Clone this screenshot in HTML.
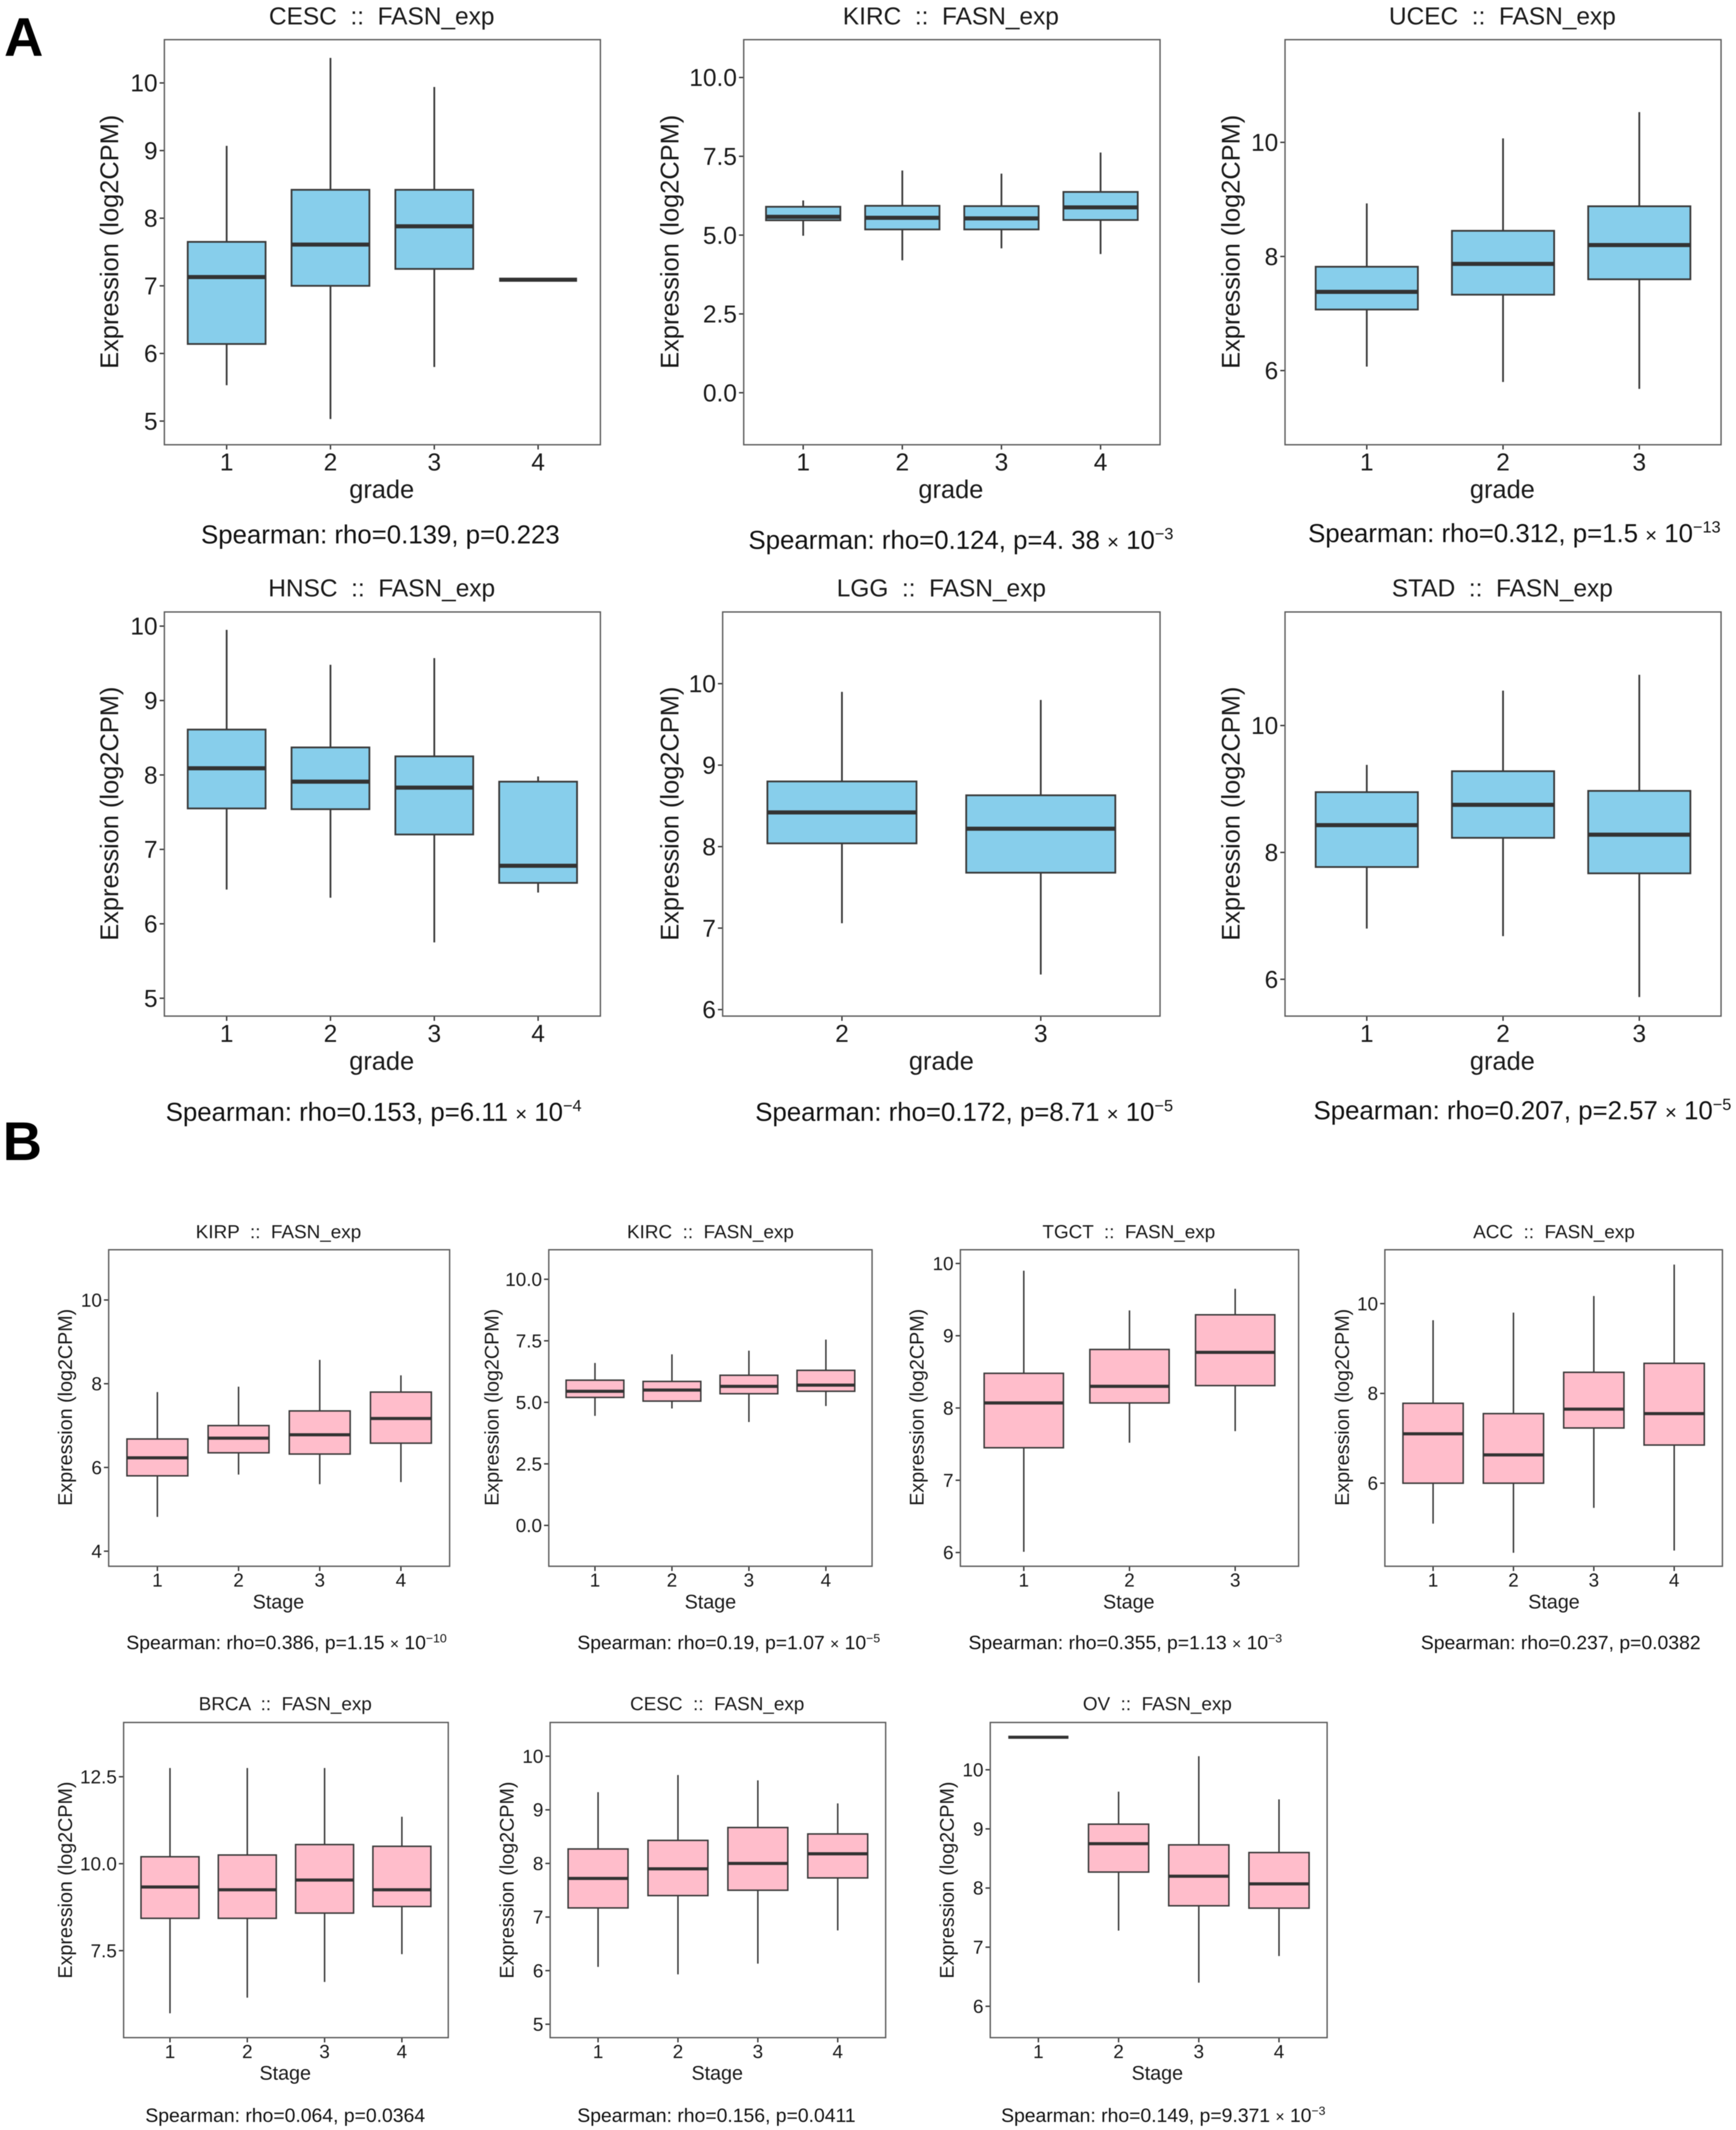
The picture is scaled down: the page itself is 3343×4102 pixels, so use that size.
<!DOCTYPE html>
<html lang="en">
<head>
<meta charset="utf-8">
<title>FASN expression by grade and stage</title>
<style>
html,body{margin:0;padding:0;background:#fff;width:3343px;height:4102px;overflow:hidden}
svg{display:block;filter:blur(0.7px)}
text{font-family:"Liberation Sans",Arial,sans-serif;fill:#1a1a1a}
.a{font-size:18px}.a-ax{font-size:18.7px}.a-note{font-size:19px;fill:#111}
.b{font-size:13.9px}.b-ax{font-size:14.5px}.b-note{font-size:14.25px;fill:#111}
.letter{font-size:40px;font-weight:bold;fill:#000}
.m{text-anchor:middle}
.xa{font-size:15px}.xb{font-size:11.5px}
</style>
</head>
<body>
<svg id="figure" xmlns="http://www.w3.org/2000/svg" width="3343" height="4102" viewBox="0 0 1278 1568" preserveAspectRatio="none">
<rect width="1278" height="1568" fill="#fff"/>
<text class="letter" x="3" y="41">A</text>
<text class="letter" x="2" y="854">B</text>

<g id="cescGrade">
<text class="a m" x="281" y="18">CESC &#160;::&#160; FASN_exp</text>
<text class="a-ax m" transform="translate(87,178) rotate(-90)">Expression (log2CPM)</text>
<text class="a-ax m" x="281" y="366.5">grade</text>
<text class="a-note" x="148" y="400">Spearman: rho=0.139, p=0.223</text>
</g>
<g id="kircGrade">
<text class="a m" x="700" y="18">KIRC &#160;::&#160; FASN_exp</text>
<text class="a-ax m" transform="translate(499.5,178) rotate(-90)">Expression (log2CPM)</text>
<text class="a-ax m" x="700" y="366.5">grade</text>
<text class="a-note" x="551" y="404">Spearman: rho=0.124, p=4. 38 <tspan class="xa">×</tspan> 10<tspan font-size="12" dy="-7">−3</tspan></text>
</g>
<g id="ucecGrade">
<text class="a m" x="1106" y="18">UCEC &#160;::&#160; FASN_exp</text>
<text class="a-ax m" transform="translate(912.5,178) rotate(-90)">Expression (log2CPM)</text>
<text class="a-ax m" x="1106" y="366.5">grade</text>
<text class="a-note" x="963" y="399">Spearman: rho=0.312, p=1.5 <tspan class="xa">×</tspan> 10<tspan font-size="12" dy="-7">−13</tspan></text>
</g>
<g id="hnscGrade">
<text class="a m" x="281" y="439">HNSC &#160;::&#160; FASN_exp</text>
<text class="a-ax m" transform="translate(87,599) rotate(-90)">Expression (log2CPM)</text>
<text class="a-ax m" x="281" y="787.5">grade</text>
<text class="a-note" x="122" y="825">Spearman: rho=0.153, p=6.11 <tspan class="xa">×</tspan> 10<tspan font-size="12" dy="-7">−4</tspan></text>
</g>
<g id="lggGrade">
<text class="a m" x="693" y="439">LGG &#160;::&#160; FASN_exp</text>
<text class="a-ax m" transform="translate(499.5,599) rotate(-90)">Expression (log2CPM)</text>
<text class="a-ax m" x="693" y="787.5">grade</text>
<text class="a-note" x="556" y="825">Spearman: rho=0.172, p=8.71 <tspan class="xa">×</tspan> 10<tspan font-size="12" dy="-7">−5</tspan></text>
</g>
<g id="stadGrade">
<text class="a m" x="1106" y="439">STAD &#160;::&#160; FASN_exp</text>
<text class="a-ax m" transform="translate(912.5,599) rotate(-90)">Expression (log2CPM)</text>
<text class="a-ax m" x="1106" y="787.5">grade</text>
<text class="a-note" x="967" y="824">Spearman: rho=0.207, p=2.57 <tspan class="xa">×</tspan> 10<tspan font-size="12" dy="-7">−5</tspan></text>
</g>

<g id="kirpStage">
<text class="b m" x="205" y="911.5">KIRP &#160;::&#160; FASN_exp</text>
<text class="b-ax m" transform="translate(53,1036) rotate(-90)">Expression (log2CPM)</text>
<text class="b-ax m" x="205" y="1184">Stage</text>
<text class="b-note" x="93" y="1214">Spearman: rho=0.386, p=1.15 <tspan class="xb">×</tspan> 10<tspan font-size="9" dy="-5">−10</tspan></text>
</g>
<g id="kircStage">
<text class="b m" x="523" y="911.5">KIRC &#160;::&#160; FASN_exp</text>
<text class="b-ax m" transform="translate(367,1036) rotate(-90)">Expression (log2CPM)</text>
<text class="b-ax m" x="523" y="1184">Stage</text>
<text class="b-note" x="425" y="1214">Spearman: rho=0.19, p=1.07 <tspan class="xb">×</tspan> 10<tspan font-size="9" dy="-5">−5</tspan></text>
</g>
<g id="tgctStage">
<text class="b m" x="831" y="911.5">TGCT &#160;::&#160; FASN_exp</text>
<text class="b-ax m" transform="translate(680,1036) rotate(-90)">Expression (log2CPM)</text>
<text class="b-ax m" x="831" y="1184">Stage</text>
<text class="b-note" x="713" y="1214">Spearman: rho=0.355, p=1.13 <tspan class="xb">×</tspan> 10<tspan font-size="9" dy="-5">−3</tspan></text>
</g>
<g id="accStage">
<text class="b m" x="1144" y="911.5">ACC &#160;::&#160; FASN_exp</text>
<text class="b-ax m" transform="translate(993,1036) rotate(-90)">Expression (log2CPM)</text>
<text class="b-ax m" x="1144" y="1184">Stage</text>
<text class="b-note" x="1046" y="1214">Spearman: rho=0.237, p=0.0382</text>
</g>
<g id="brcaStage">
<text class="b m" x="210" y="1259">BRCA &#160;::&#160; FASN_exp</text>
<text class="b-ax m" transform="translate(53,1384) rotate(-90)">Expression (log2CPM)</text>
<text class="b-ax m" x="210" y="1531">Stage</text>
<text class="b-note" x="107" y="1562">Spearman: rho=0.064, p=0.0364</text>
</g>
<g id="cescStage">
<text class="b m" x="528" y="1259">CESC &#160;::&#160; FASN_exp</text>
<text class="b-ax m" transform="translate(378,1384) rotate(-90)">Expression (log2CPM)</text>
<text class="b-ax m" x="528" y="1531">Stage</text>
<text class="b-note" x="425" y="1562">Spearman: rho=0.156, p=0.0411</text>
</g>
<g id="ovStage">
<text class="b m" x="852" y="1259">OV &#160;::&#160; FASN_exp</text>
<text class="b-ax m" transform="translate(702,1384) rotate(-90)">Expression (log2CPM)</text>
<text class="b-ax m" x="852" y="1531">Stage</text>
<text class="b-note" x="737" y="1562">Spearman: rho=0.149, p=9.371 <tspan class="xb">×</tspan> 10<tspan font-size="9" dy="-5">−3</tspan></text>
</g>
</svg>

<script>
// ---- Data ----
const cescGradeCategories = ['1','2','3','4'];
const cescGradeYTicks = ['5','6','7','8','9','10'];
const cescGradeLow = [5.53,5.03,5.80,7.09];
const cescGradeQ1 = [6.14,7.00,7.25,7.09];
const cescGradeMedian = [7.13,7.61,7.88,7.09];
const cescGradeQ3 = [7.65,8.42,8.42,7.09];
const cescGradeHigh = [9.07,10.37,9.94,7.09];

const kircGradeCategories = ['1','2','3','4'];
const kircGradeYTicks = ['0.0','2.5','5.0','7.5','10.0'];
const kircGradeLow = [4.98,4.20,4.58,4.40];
const kircGradeQ1 = [5.47,5.18,5.18,5.48];
const kircGradeMedian = [5.58,5.55,5.53,5.88];
const kircGradeQ3 = [5.90,5.93,5.92,6.37];
const kircGradeHigh = [6.10,7.05,6.95,7.62];

const ucecGradeCategories = ['1','2','3'];
const ucecGradeYTicks = ['6','8','10'];
const ucecGradeLow = [6.07,5.80,5.68];
const ucecGradeQ1 = [7.07,7.33,7.60];
const ucecGradeMedian = [7.38,7.87,8.20];
const ucecGradeQ3 = [7.82,8.45,8.88];
const ucecGradeHigh = [8.93,10.07,10.53];

const hnscGradeCategories = ['1','2','3','4'];
const hnscGradeYTicks = ['5','6','7','8','9','10'];
const hnscGradeLow = [6.46,6.35,5.75,6.42];
const hnscGradeQ1 = [7.55,7.54,7.20,6.55];
const hnscGradeMedian = [8.09,7.91,7.83,6.78];
const hnscGradeQ3 = [8.61,8.37,8.25,7.91];
const hnscGradeHigh = [9.95,9.48,9.57,7.98];

const lggGradeCategories = ['2','3'];
const lggGradeYTicks = ['6','7','8','9','10'];
const lggGradeLow = [7.06,6.43];
const lggGradeQ1 = [8.04,7.68];
const lggGradeMedian = [8.42,8.22];
const lggGradeQ3 = [8.80,8.63];
const lggGradeHigh = [9.90,9.80];

const stadGradeCategories = ['1','2','3'];
const stadGradeYTicks = ['6','8','10'];
const stadGradeLow = [6.80,6.68,5.72];
const stadGradeQ1 = [7.77,8.23,7.67];
const stadGradeMedian = [8.43,8.75,8.28];
const stadGradeQ3 = [8.95,9.28,8.97];
const stadGradeHigh = [9.38,10.55,10.80];

const kirpStageCategories = ['1','2','3','4'];
const kirpStageYTicks = ['4','6','8','10'];
const kirpStageLow = [4.82,5.83,5.60,5.65];
const kirpStageQ1 = [5.80,6.35,6.32,6.58];
const kirpStageMedian = [6.23,6.70,6.78,7.17];
const kirpStageQ3 = [6.68,7.00,7.35,7.80];
const kirpStageHigh = [7.80,7.93,8.57,8.20];

const kircStageCategories = ['1','2','3','4'];
const kircStageYTicks = ['0.0','2.5','5.0','7.5','10.0'];
const kircStageLow = [4.45,4.75,4.20,4.85];
const kircStageQ1 = [5.20,5.05,5.35,5.45];
const kircStageMedian = [5.45,5.50,5.65,5.70];
const kircStageQ3 = [5.90,5.85,6.10,6.30];
const kircStageHigh = [6.60,6.95,7.10,7.55];

const tgctStageCategories = ['1','2','3'];
const tgctStageYTicks = ['6','7','8','9','10'];
const tgctStageLow = [6.01,7.52,7.68];
const tgctStageQ1 = [7.45,8.07,8.31];
const tgctStageMedian = [8.07,8.30,8.77];
const tgctStageQ3 = [8.48,8.81,9.29];
const tgctStageHigh = [9.90,9.35,9.65];

const accStageCategories = ['1','2','3','4'];
const accStageYTicks = ['6','8','10'];
const accStageLow = [5.10,4.45,5.45,4.50];
const accStageQ1 = [6.00,6.00,7.23,6.85];
const accStageMedian = [7.10,6.63,7.65,7.55];
const accStageQ3 = [7.78,7.55,8.47,8.67];
const accStageHigh = [9.63,9.80,10.17,10.87];

const brcaStageCategories = ['1','2','3','4'];
const brcaStageYTicks = ['7.5','10.0','12.5'];
const brcaStageLow = [5.70,6.15,6.60,7.40];
const brcaStageQ1 = [8.43,8.43,8.58,8.77];
const brcaStageMedian = [9.33,9.25,9.53,9.25];
const brcaStageQ3 = [10.20,10.25,10.55,10.50];
const brcaStageHigh = [12.75,12.75,12.75,11.35];

const cescStageCategories = ['1','2','3','4'];
const cescStageYTicks = ['5','6','7','8','9','10'];
const cescStageLow = [6.07,5.93,6.13,6.75];
const cescStageQ1 = [7.17,7.40,7.50,7.73];
const cescStageMedian = [7.72,7.90,8.00,8.18];
const cescStageQ3 = [8.27,8.43,8.67,8.55];
const cescStageHigh = [9.33,9.65,9.55,9.12];

const ovStageCategories = ['1','2','3','4'];
const ovStageYTicks = ['6','7','8','9','10'];
const ovStageLow = [10.55,7.28,6.40,6.85];
const ovStageQ1 = [10.55,8.27,7.70,7.66];
const ovStageMedian = [10.55,8.75,8.20,8.07];
const ovStageQ3 = [10.55,9.08,8.73,8.60];
const ovStageHigh = [10.55,9.63,10.23,9.50];

// ---- Drawing ----
const NS = 'http://www.w3.org/2000/svg';
const SKY = '#87CEEB', PINK = '#FFBDCB', INK = '#3a3a3a', FRAME = '#5c5c5c';

function make(tag, parent, attrs) {
  const el = document.createElementNS(NS, tag);
  for (const k in attrs) el.setAttribute(k, attrs[k]);
  parent.appendChild(el);
  return el;
}

function drawPanel(id, frame, yDomain, fill, big, cats, yTicks, low, q1, median, q3, high) {
  const g = document.getElementById(id);
  const [l, t, r, b] = frame;
  const yScale = v => b - (v - yDomain[0]) / (yDomain[1] - yDomain[0]) * (b - t);
  const unit = (r - l) / (cats.length + 0.2);
  const xScale = i => l + (i + 0.6) * unit;
  const halfBox = unit * 0.375;
  const fontSize = big ? 18 : 13.9;
  const sw = big ? 1.3 : 1.1;
  const medianW = big ? 3 : 2.3;

  cats.forEach((c, i) => {
    const x = xScale(i);
    const upper = make('line', g, {x1: x, x2: x, y1: yScale(high[i]), y2: yScale(q3[i]), stroke: INK, 'stroke-width': sw});
    
    
    const lower = make('line', g, {x1: x, x2: x, y1: yScale(q1[i]), y2: yScale(low[i]), stroke: INK, 'stroke-width': sw});
    
    
    const box = make('rect', g, {x: x - halfBox, y: yScale(q3[i]), width: halfBox * 2, height: Math.max(0, yScale(q1[i]) - yScale(q3[i])), fill: fill, stroke: INK, 'stroke-width': sw});
    
    
    const med = make('line', g, {x1: x - halfBox, x2: x + halfBox, y1: yScale(median[i]), y2: yScale(median[i]), stroke: '#333', 'stroke-width': medianW});
    
    
    const tick = make('line', g, {x1: x, x2: x, y1: b, y2: b + 3.5, stroke: '#333', 'stroke-width': 1});
    
    
    const lab = make('text', g, {x: x, y: b + (big ? 19 : 15), 'text-anchor': 'middle', 'font-size': fontSize});
    
    
    lab.textContent = c;
  });

  yTicks.forEach(label => {
    const y = yScale(parseFloat(label));
    const tick = make('line', g, {x1: l - 3.5, x2: l, y1: y, y2: y, stroke: '#333', 'stroke-width': 1});
    
    
    const lab = make('text', g, {x: l - 5, y: y + fontSize * 0.35, 'text-anchor': 'end', 'font-size': fontSize});
    
    
    lab.textContent = label;
  });

  const border = make('rect', g, {x: l, y: t, width: r - l, height: b - t, fill: 'none', stroke: FRAME, 'stroke-width': 1});
  
  
}

drawPanel('cescGrade', [121,29.2,442,327.4], [4.65,10.64], SKY, true, cescGradeCategories, cescGradeYTicks, cescGradeLow, cescGradeQ1, cescGradeMedian, cescGradeQ3, cescGradeHigh);
drawPanel('kircGrade', [547.5,29.2,854,327.4], [-1.65,11.2], SKY, true, kircGradeCategories, kircGradeYTicks, kircGradeLow, kircGradeQ1, kircGradeMedian, kircGradeQ3, kircGradeHigh);
drawPanel('ucecGrade', [946,29.2,1267,327.4], [4.70,11.80], SKY, true, ucecGradeCategories, ucecGradeYTicks, ucecGradeLow, ucecGradeQ1, ucecGradeMedian, ucecGradeQ3, ucecGradeHigh);
drawPanel('hnscGrade', [121,450.5,442,748], [4.76,10.19], SKY, true, hnscGradeCategories, hnscGradeYTicks, hnscGradeLow, hnscGradeQ1, hnscGradeMedian, hnscGradeQ3, hnscGradeHigh);
drawPanel('lggGrade', [532,450.5,854,748], [5.92,10.88], SKY, true, lggGradeCategories, lggGradeYTicks, lggGradeLow, lggGradeQ1, lggGradeMedian, lggGradeQ3, lggGradeHigh);
drawPanel('stadGrade', [946,450.5,1267,748], [5.42,11.79], SKY, true, stadGradeCategories, stadGradeYTicks, stadGradeLow, stadGradeQ1, stadGradeMedian, stadGradeQ3, stadGradeHigh);
drawPanel('kirpStage', [80,920,331,1153], [3.64,11.2], PINK, false, kirpStageCategories, kirpStageYTicks, kirpStageLow, kirpStageQ1, kirpStageMedian, kirpStageQ3, kirpStageHigh);
drawPanel('kircStage', [404,920,642,1153], [-1.66,11.2], PINK, false, kircStageCategories, kircStageYTicks, kircStageLow, kircStageQ1, kircStageMedian, kircStageQ3, kircStageHigh);
drawPanel('tgctStage', [707,920,956,1153], [5.81,10.19], PINK, false, tgctStageCategories, tgctStageYTicks, tgctStageLow, tgctStageQ1, tgctStageMedian, tgctStageQ3, tgctStageHigh);
drawPanel('accStage', [1019.5,920,1268,1153], [4.15,11.2], PINK, false, accStageCategories, accStageYTicks, accStageLow, accStageQ1, accStageMedian, accStageQ3, accStageHigh);
drawPanel('brcaStage', [91,1268,330,1500], [5.0,14.06], PINK, false, brcaStageCategories, brcaStageYTicks, brcaStageLow, brcaStageQ1, brcaStageMedian, brcaStageQ3, brcaStageHigh);
drawPanel('cescStage', [405,1268,652,1500], [4.75,10.63], PINK, false, cescStageCategories, cescStageYTicks, cescStageLow, cescStageQ1, cescStageMedian, cescStageQ3, cescStageHigh);
drawPanel('ovStage', [729,1268,977,1500], [5.47,10.8], PINK, false, ovStageCategories, ovStageYTicks, ovStageLow, ovStageQ1, ovStageMedian, ovStageQ3, ovStageHigh);
</script>
</body>
</html>
